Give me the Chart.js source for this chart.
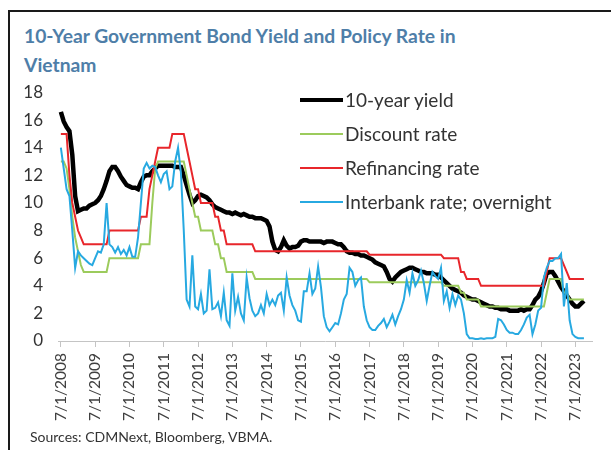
<!DOCTYPE html>
<html>
<head>
<meta charset="utf-8">
<script src="https://cdn.jsdelivr.net/npm/chart.js@4.4.0/dist/chart.umd.min.js"></script>
<style>
  html, body { margin: 0; padding: 0; background: #fff; }
  #wrap { position: relative; width: 611px; height: 450px; overflow: hidden; font-family: Lato, "Open Sans", sans-serif; }
  #frame { position: absolute; left: 8px; top: 10px; width: 700px; height: 500px; border: 2px solid #1a1a1a; }
  #title { position: absolute; left: 24px; top: 21px; font-size: 19.3px; font-weight: bold; color: #4e7ea8; line-height: 29px; }
  #chart { position: absolute; left: 0; top: 0; }
  #legend { position: absolute; left: 300px; top: 86px; }
  .item { position: absolute; left: 0; height: 28px; white-space: nowrap; font-size: 19px; color: #333; }
  .item span.ln { position: absolute; left: 0; width: 43px; }
  .item span.tx { position: absolute; left: 45px; top: 2px; }
  #source { position: absolute; left: 30px; top: 428px; font-size: 14px; color: #333; }
</style>
</head>
<body>
<div id="wrap">
  <div id="frame"></div>
  <div id="title">10-Year Government Bond Yield and Policy Rate in<br>Vietnam</div>
  <canvas id="chart" width="611" height="450"></canvas>
  <div id="legend"></div>
  <div id="source">Sources: CDMNext, Bloomberg, VBMA.</div>
</div>
<script>
// monthly values, Jul 2008 .. Oct 2023 (index 0 = Jul 2008)
const tickLabels = ['7/1/2008', '7/1/2009', '7/1/2010', '7/1/2011', '7/1/2012', '7/1/2013', '7/1/2014', '7/1/2015',
    '7/1/2016', '7/1/2017', '7/1/2018', '7/1/2019', '7/1/2020', '7/1/2021', '7/1/2022', '7/1/2023'];

const seriesNames = ['10-year yield', 'Discount rate', 'Refinancing rate', 'Interbank rate; overnight'];

const yield10y = [
    16.6, 15.9, 15.5, 15.2, 13.5, 10.5, 9.4, 9.5, 9.6, 9.6,
    9.8, 9.9, 10.0, 10.2, 10.5, 11.0, 11.6, 12.3, 12.6, 12.6,
    12.3, 11.9, 11.6, 11.3, 11.2, 11.1, 11.1, 11.0, 11.5, 11.9,
    12.0, 12.0, 12.3, 12.5, 12.7, 12.7, 12.7, 12.7, 12.7, 12.7,
    12.6, 12.6, 12.6, 12.0, 11.3, 10.6, 10.0, 10.2, 10.5, 10.6,
    10.5, 10.4, 10.2, 9.9, 9.7, 9.6, 9.5, 9.4, 9.3, 9.3,
    9.2, 9.3, 9.2, 9.1, 9.2, 9.1, 9.0, 9.0, 8.9, 8.9,
    8.9, 8.8, 8.7, 8.3, 7.2, 6.6, 6.5, 6.8, 7.3, 6.9,
    6.7, 6.8, 6.8, 6.9, 7.2, 7.3, 7.3, 7.2, 7.2, 7.2,
    7.2, 7.2, 7.1, 7.2, 7.2, 7.2, 7.1, 7.0, 7.0, 6.8,
    6.5, 6.4, 6.4, 6.3, 6.3, 6.2, 6.2, 6.1, 6.0, 5.9,
    5.7, 5.6, 5.5, 5.4, 5.0, 4.5, 4.3, 4.6, 4.8, 5.0,
    5.1, 5.2, 5.3, 5.3, 5.2, 5.1, 5.0, 5.0, 4.9, 4.9,
    4.9, 4.8, 4.8, 4.6, 4.4, 4.2, 4.0, 3.8, 3.7, 3.6,
    3.5, 3.3, 3.2, 3.1, 3.0, 3.0, 2.9, 2.8, 2.7, 2.6,
    2.5, 2.5, 2.4, 2.4, 2.3, 2.3, 2.3, 2.2, 2.2, 2.2,
    2.2, 2.3, 2.2, 2.3, 2.3, 2.6, 3.0, 3.2, 3.6, 4.2,
    4.9, 5.0, 5.0, 4.7, 4.3, 3.9, 3.6, 3.3, 3.0, 2.7,
    2.5, 2.5, 2.7, 2.9
];

const discountRate = [
    13, 13, 12.5, 11, 9, 7.5, 6.5, 5.5, 5, 5,
    5, 5, 5, 5, 5, 5, 5, 6, 6, 6,
    6, 6, 6, 6, 6, 6, 6, 6, 7, 7,
    7, 7, 10, 12.5, 13, 13, 13, 13, 13, 13,
    13, 13, 13, 13, 12, 11, 10, 9, 9, 8,
    8, 8, 8, 8, 7, 7, 6, 6, 5, 5,
    5, 5, 5, 5, 5, 5, 5, 5, 4.5, 4.5,
    4.5, 4.5, 4.5, 4.5, 4.5, 4.5, 4.5, 4.5, 4.5, 4.5,
    4.5, 4.5, 4.5, 4.5, 4.5, 4.5, 4.5, 4.5, 4.5, 4.5,
    4.5, 4.5, 4.5, 4.5, 4.5, 4.5, 4.5, 4.5, 4.5, 4.5,
    4.5, 4.5, 4.5, 4.5, 4.5, 4.5, 4.5, 4.5, 4.25, 4.25,
    4.25, 4.25, 4.25, 4.25, 4.25, 4.25, 4.25, 4.25, 4.25, 4.25,
    4.25, 4.25, 4.25, 4.25, 4.25, 4.25, 4.25, 4.25, 4.25, 4.25,
    4.25, 4.25, 4.25, 4.25, 4, 4, 4, 4, 4, 4,
    3.5, 3.5, 3, 3, 3, 3, 3, 2.5, 2.5, 2.5,
    2.5, 2.5, 2.5, 2.5, 2.5, 2.5, 2.5, 2.5, 2.5, 2.5,
    2.5, 2.5, 2.5, 2.5, 2.5, 2.5, 2.5, 2.5, 2.5, 2.5,
    3.5, 4.5, 4.5, 4.5, 4.5, 4.5, 3.5, 3.5, 3, 3,
    3, 3, 3, 3
];

const refinancingRate = [
    15, 15, 15, 12, 10, 9, 8, 7.5, 7, 7,
    7, 7, 7, 7, 7, 7, 7, 8, 8, 8,
    8, 8, 8, 8, 8, 8, 8, 8, 9, 9,
    9, 11, 12, 13, 14, 14, 14, 14, 14, 15,
    15, 15, 15, 15, 14, 13, 12, 11, 11, 10,
    10, 10, 10, 10, 9, 9, 8, 8, 7, 7,
    7, 7, 7, 7, 7, 7, 7, 7, 6.5, 6.5,
    6.5, 6.5, 6.5, 6.5, 6.5, 6.5, 6.5, 6.5, 6.5, 6.5,
    6.5, 6.5, 6.5, 6.5, 6.5, 6.5, 6.5, 6.5, 6.5, 6.5,
    6.5, 6.5, 6.5, 6.5, 6.5, 6.5, 6.5, 6.5, 6.5, 6.5,
    6.5, 6.5, 6.5, 6.5, 6.5, 6.5, 6.5, 6.5, 6.25, 6.25,
    6.25, 6.25, 6.25, 6.25, 6.25, 6.25, 6.25, 6.25, 6.25, 6.25,
    6.25, 6.25, 6.25, 6.25, 6.25, 6.25, 6.25, 6.25, 6.25, 6.25,
    6.25, 6.25, 6.25, 6.25, 6, 6, 6, 6, 6, 6,
    5, 5, 4.5, 4.5, 4.5, 4.5, 4.5, 4, 4, 4,
    4, 4, 4, 4, 4, 4, 4, 4, 4, 4,
    4, 4, 4, 4, 4, 4, 4, 4, 4, 4,
    5, 6, 6, 6, 6, 6, 5.5, 5, 4.5, 4.5,
    4.5, 4.5, 4.5, 4.5
];

const interbankOvernight = [
    14.0, 12.5, 11.0, 10.5, 8.0, 5.3, 6.5, 6.2, 6.0, 5.8,
    5.6, 5.5, 6.0, 6.5, 6.4, 7.0, 10.0, 7.0, 6.8, 6.4,
    6.8, 6.3, 6.6, 6.2, 6.8, 6.1, 6.1, 7.5, 10.0, 12.5,
    12.9, 12.5, 12.7, 12.6, 12.0, 11.5, 12.1, 12.3, 11.0, 11.2,
    13.0, 14.0, 12.2, 8.0, 3.0, 2.5, 6.2, 2.5, 2.3, 3.4,
    2.0, 2.2, 5.2, 2.3, 2.4, 2.8, 1.8, 3.5, 1.5, 1.1,
    4.9, 2.2, 3.2, 2.0, 1.5, 4.6, 3.1, 2.2, 1.8, 2.0,
    2.6, 2.0, 3.4, 2.6, 3.0, 2.6, 3.3, 3.5, 2.2, 4.6,
    3.3, 2.6, 2.2, 1.5, 1.4, 3.6, 3.6, 4.9, 3.4, 3.8,
    5.4, 3.9, 1.8, 1.0, 0.7, 1.0, 1.3, 1.2, 2.0, 3.0,
    3.4, 5.3, 5.0, 4.0, 4.4, 4.6, 2.5, 1.5, 1.0, 0.8,
    0.8, 1.1, 1.3, 1.6, 1.0, 1.4, 1.9, 1.2, 1.8, 2.3,
    3.0, 4.4, 3.5, 4.9, 4.0, 4.4, 5.1, 4.2, 2.9, 4.0,
    5.0, 4.7, 4.5, 5.3, 2.9, 3.6, 2.4, 3.4, 2.6, 3.3,
    3.0, 2.0, 0.5, 0.2, 0.2, 0.15, 0.15, 0.2, 0.15, 0.2,
    0.2, 0.2, 0.3, 1.6, 1.5, 1.2, 0.8, 0.6, 0.6, 0.5,
    0.5, 0.8, 1.2, 1.7, 1.9, 0.5, 1.2, 2.2, 2.4, 4.6,
    5.3, 5.8, 5.8, 6.0, 6.0, 6.3, 2.5, 4.2, 1.5, 0.5,
    0.3, 0.2, 0.2, 0.2
];

const colors = ['#000000', '#9ccb5c', '#e8262b', '#27a9e1'];
const widths = [4.5, 2, 2, 2];

const toPoints = (arr) => arr.map((v, i) => ({ x: i, y: v }));
const allSeries = [yield10y, discountRate, refinancingRate, interbankOvernight];

// legend drawn as html, sitting inside the plot area like the original
const legendDiv = document.getElementById('legend');
seriesNames.forEach((name, i) => {
    const item = document.createElement('div');
    item.className = 'item';
    item.style.top = (i * 34) + 'px';
    item.innerHTML = `<span class="ln" style="top:${14 - widths[i] / 2}px;height:${widths[i]}px;background:${colors[i]}"></span><span class="tx">${name}</span>`;
    legendDiv.appendChild(item);
});

new Chart(document.getElementById('chart'), {
    type: 'line',
    data: {
        datasets: allSeries.map((arr, i) => ({
            label: seriesNames[i],
            data: toPoints(arr),
            borderColor: colors[i],
            borderWidth: widths[i],
            pointRadius: 0,
            tension: 0,
            fill: false,
            order: 4 - i
        }))
    },
    options: {
        responsive: false,
        animation: false,
        layout: { padding: { left: 0, right: 18.5, top: 92.5, bottom: 0 } },
        plugins: { legend: { display: false }, tooltip: { enabled: false } },
        scales: {
            x: {
                type: 'linear',
                min: -1,
                max: 186,
                afterBuildTicks: (scale) => {
                    scale.ticks = tickLabels.map((_, i) => ({ value: i * 12 }));
                },
                afterFit: (scale) => { scale.height = 109; },
                grid: { drawOnChartArea: false, drawTicks: true, tickLength: 6, color: '#c4c4c4' },
                border: { display: true, color: '#c4c4c4', width: 1 },
                ticks: {
                    autoSkip: false,
                    minRotation: 90,
                    maxRotation: 90,
                    padding: 6,
                    color: '#404040',
                    font: { family: 'Lato', size: 15.5 },
                    callback: (value) => tickLabels[Math.round(value / 12)]
                }
            },
            y: {
                min: 0,
                max: 18,
                afterFit: (scale) => { scale.width = 58; },
                grid: { display: false, drawTicks: false },
                border: { display: false },
                ticks: {
                    stepSize: 2,
                    padding: 15,
                    color: '#333333',
                    font: { family: 'Lato', size: 17 }
                }
            }
        }
    }
});
</script>
</body>
</html>
